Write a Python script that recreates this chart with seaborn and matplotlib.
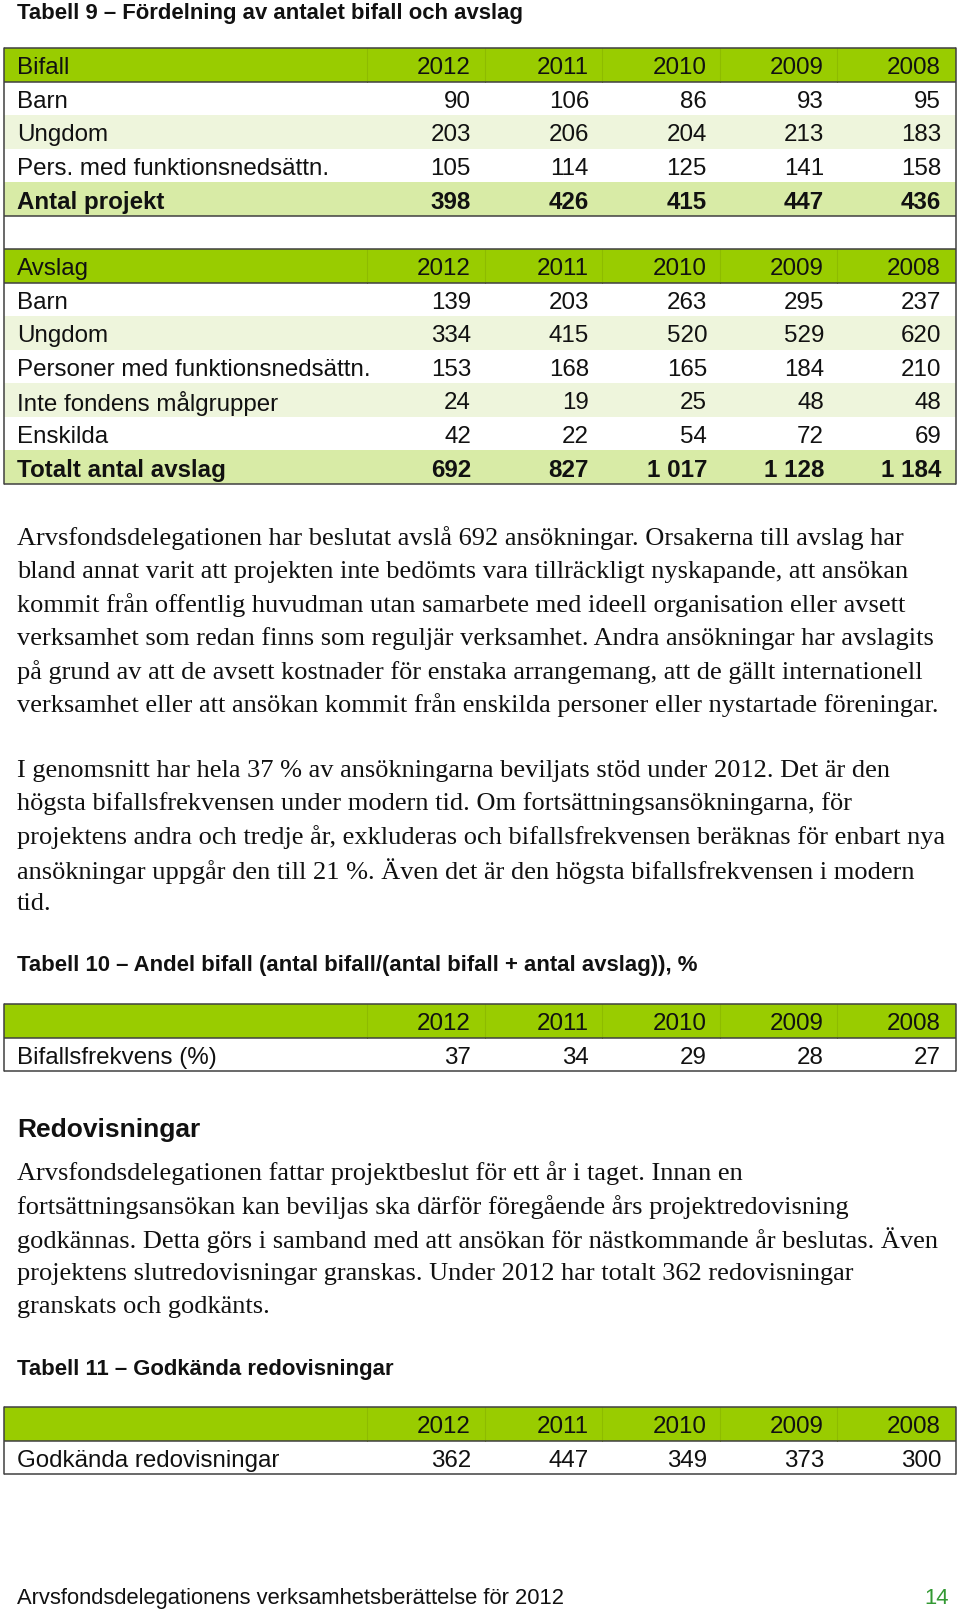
import matplotlib
matplotlib.use("Agg")
import matplotlib.pyplot as plt
from matplotlib.patches import Rectangle
import seaborn as sns
import pandas as pd

# ---------------- data ----------------
years = ["2012", "2011", "2010", "2009", "2008"]

bifall_labels = ["Barn", "Ungdom", "Pers. med funktionsnedsättn."]
bifall_barn = [90, 106, 86, 93, 95]
bifall_ungdom = [203, 206, 204, 213, 183]
bifall_funk = [105, 114, 125, 141, 158]
antal_projekt = [398, 426, 415, 447, 436]

avslag_labels = ["Barn", "Ungdom", "Personer med funktionsnedsättn.",
                 "Inte fondens målgrupper", "Enskilda"]
avslag_barn = [139, 203, 263, 295, 237]
avslag_ungdom = [334, 415, 520, 529, 620]
avslag_funk = [153, 168, 165, 184, 210]
avslag_inte = [24, 19, 25, 48, 48]
avslag_enskilda = [42, 22, 54, 72, 69]
totalt_avslag = [692, 827, 1017, 1128, 1184]

bifallsfrekvens = [37, 34, 29, 28, 27]
godkanda = [362, 447, 349, 373, 300]

title9 = "Tabell 9 – Fördelning av antalet bifall och avslag"
title10 = "Tabell 10 – Andel bifall (antal bifall/(antal bifall + antal avslag)), %"
title11 = "Tabell 11 – Godkända redovisningar"
heading = "Redovisningar"
footer = "Arvsfondsdelegationens verksamhetsberättelse för 2012"
page_no = "14"

para1 = [
    "Arvsfondsdelegationen har beslutat avslå 692 ansökningar. Orsakerna till avslag har",
    "bland annat varit att projekten inte bedömts vara tillräckligt nyskapande, att ansökan",
    "kommit från offentlig huvudman utan samarbete med ideell organisation eller avsett",
    "verksamhet som redan finns som reguljär verksamhet. Andra ansökningar har avslagits",
    "på grund av att de avsett kostnader för enstaka arrangemang, att de gällt internationell",
    "verksamhet eller att ansökan kommit från enskilda personer eller nystartade föreningar.",
]
para2 = [
    "I genomsnitt har hela 37 % av ansökningarna beviljats stöd under 2012. Det är den",
    "högsta bifallsfrekvensen under modern tid. Om fortsättningsansökningarna, för",
    "projektens andra och tredje år, exkluderas och bifallsfrekvensen beräknas för enbart nya",
    "ansökningar uppgår den till 21 %. Även det är den högsta bifallsfrekvensen i modern",
    "tid.",
]
para3 = [
    "Arvsfondsdelegationen fattar projektbeslut för ett år i taget. Innan en",
    "fortsättningsansökan kan beviljas ska därför föregående års projektredovisning",
    "godkännas. Detta görs i samband med att ansökan för nästkommande år beslutas. Även",
    "projektens slutredovisningar granskas. Under 2012 har totalt 362 redovisningar",
    "granskats och godkänts.",
]

df_bifall = pd.DataFrame([bifall_barn, bifall_ungdom, bifall_funk],
                         index=bifall_labels, columns=years)
df_avslag = pd.DataFrame([avslag_barn, avslag_ungdom, avslag_funk,
                          avslag_inte, avslag_enskilda],
                         index=avslag_labels, columns=years)

# ---------------- style ----------------
sns.set_theme(style="white")
plt.rcParams["font.family"] = ["Liberation Sans", "DejaVu Sans"]

GREEN = "#99cc00"
LIGHT = "#eef5dc"
TOTAL = "#d8eba6"
LINE = "#404040"
SANS = ["Liberation Sans", "DejaVu Sans"]
SERIF = ["Liberation Serif", "DejaVu Serif"]

W, H = 960, 1611
fig = plt.figure(figsize=(9.6, 16.11), dpi=100)
ax = fig.add_axes([0, 0, 1, 1])
ax.set_xlim(0, W)
ax.set_ylim(H, 0)
ax.axis("off")

X0, X1 = 4, 956
LX = 17
VAL_R = [471, 589, 707, 824, 941]
DIVS = [367, 485, 602, 720, 837]
RH = 33.5
TFS = 17.4   # table font size (pt)
BFS = 19.0   # body serif font size
TITLE_FS = 15.9
LW = 1.1


def fmt(v):
    return f"{v:,}".replace(",", "\u00a0")


def row(y, label, values, fill, bold=False, header=False):
    if fill is not None:
        ax.add_patch(Rectangle((X0, y), X1 - X0, RH, facecolor=fill,
                               edgecolor="none", zorder=1))
    if header:
        for d in DIVS:
            ax.plot([d, d], [y, y + RH], color="#8dbb00", lw=0.8, zorder=2)
    w = "bold" if bold else "normal"
    cy = y + RH / 2 + 1
    if label:
        ax.text(LX, cy, label, fontsize=TFS, family=SANS, weight=w,
                va="center_baseline", ha="left", color="#111111", zorder=3)
    for xr, v in zip(VAL_R, values):
        s = v if isinstance(v, str) else fmt(v)
        ax.text(xr, cy, s, fontsize=TFS, family=SANS, weight=w,
                va="center_baseline", ha="right", color="#111111", zorder=3)


def hline(y):
    ax.plot([X0, X1], [y, y], color=LINE, lw=LW, zorder=4, solid_capstyle="butt")


def vborders(y0, y1):
    ax.plot([X0, X0], [y0, y1], color=LINE, lw=LW, zorder=4)
    ax.plot([X1, X1], [y0, y1], color=LINE, lw=LW, zorder=4)


# ---------------- Tabell 9 ----------------
ax.text(LX, 13, title9, fontsize=TITLE_FS, family=SANS, weight="bold",
        va="center", ha="left", color="#111111")
T9 = 48
y = T9
row(y, "Bifall", years, GREEN, header=True); y += RH
fills = [None, LIGHT, None]
for (lab, vals), f in zip(df_bifall.iterrows(), fills):
    row(y, lab, list(vals), f); y += RH
row(y, "Antal projekt", antal_projekt, TOTAL, bold=True); y += RH
y_blank = y
y += RH
y_av = y
row(y, "Avslag", years, GREEN, header=True); y += RH
fills = [None, LIGHT, None, LIGHT, None]
for (lab, vals), f in zip(df_avslag.iterrows(), fills):
    row(y, lab, list(vals), f); y += RH
row(y, "Totalt antal avslag", totalt_avslag, TOTAL, bold=True); y += RH
T9_end = y
hline(T9); hline(T9 + RH); hline(y_blank); hline(y_av); hline(y_av + RH); hline(T9_end)
vborders(T9, T9_end)

# ---------------- paragraphs ----------------
def para(lines, y0, step=33.4):
    for i, line in enumerate(lines):
        ax.text(LX, y0 + i * step, line, fontsize=BFS, family=SERIF,
                va="center_baseline", ha="left", color="#111111")

para(para1, 536)
para(para2, 768)

# ---------------- Tabell 10 ----------------
ax.text(LX, 966, title10, fontsize=TITLE_FS, family=SANS, weight="bold",
        va="center", ha="left", color="#111111")
T10 = 1004
row(T10, "", years, GREEN, header=True)
row(T10 + RH, "Bifallsfrekvens (%)", bifallsfrekvens, None)
hline(T10); hline(T10 + RH); hline(T10 + 2 * RH)
vborders(T10, T10 + 2 * RH)

# ---------------- Redovisningar ----------------
ax.text(LX, 1130, heading, fontsize=19.0, family=SANS, weight="bold",
        va="center", ha="left", color="#111111")
para(para3, 1171)

# ---------------- Tabell 11 ----------------
ax.text(LX, 1369, title11, fontsize=TITLE_FS, family=SANS, weight="bold",
        va="center", ha="left", color="#111111")
T11 = 1407
row(T11, "", years, GREEN, header=True)
row(T11 + RH, "Godkända redovisningar", godkanda, None)
hline(T11); hline(T11 + RH); hline(T11 + 2 * RH)
vborders(T11, T11 + 2 * RH)

# ---------------- footer ----------------
ax.text(LX, 1596, footer, fontsize=15.8, family=SANS, va="center_baseline",
        ha="left", color="#111111")
ax.text(949, 1596, page_no, fontsize=15.8, family=SANS, va="center_baseline",
        ha="right", color="#339933")

fig.savefig("out.png", dpi=100, facecolor="white")
